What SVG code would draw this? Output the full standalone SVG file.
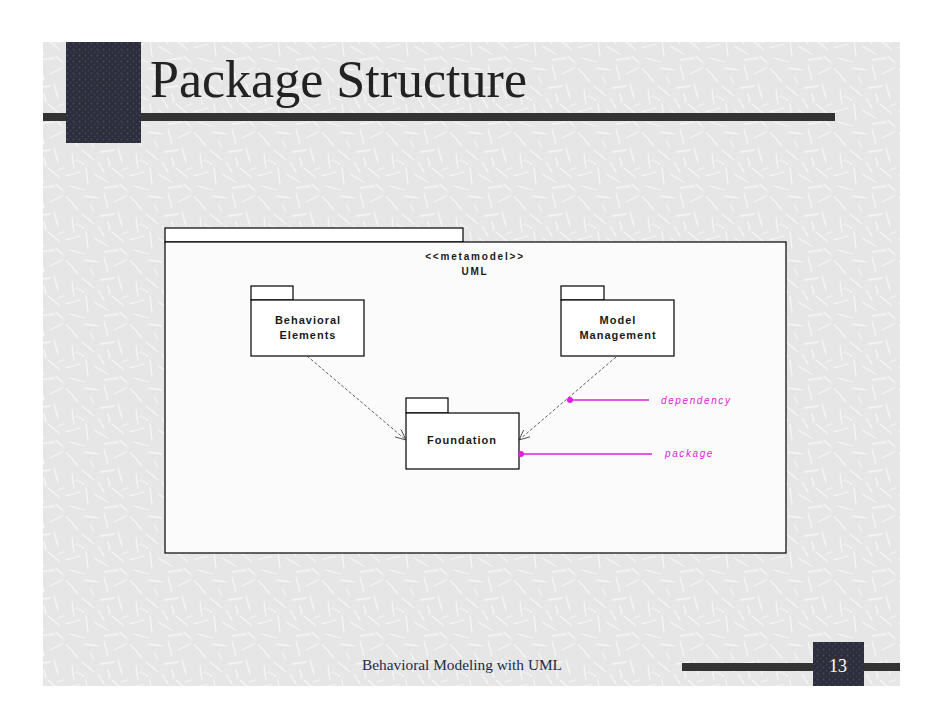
<svg xmlns="http://www.w3.org/2000/svg" width="942" height="728" viewBox="0 0 942 728">
<defs>
<pattern id="scratch" width="64" height="64" patternUnits="userSpaceOnUse">
<rect width="64" height="64" fill="#e6e6e6"/>
<g stroke="#f6f6f6" stroke-width="1.3" stroke-linecap="round">
<line x1="3" y1="5" x2="14" y2="18"/>
<line x1="20" y1="4" x2="34" y2="6"/>
<line x1="40" y1="2" x2="44" y2="16"/>
<line x1="50" y1="10" x2="62" y2="4"/>
<line x1="8" y1="26" x2="10" y2="40"/>
<line x1="18" y1="22" x2="30" y2="32"/>
<line x1="36" y1="24" x2="50" y2="22"/>
<line x1="54" y1="20" x2="58" y2="34"/>
<line x1="2" y1="48" x2="16" y2="44"/>
<line x1="22" y1="40" x2="24" y2="56"/>
<line x1="30" y1="46" x2="44" y2="54"/>
<line x1="48" y1="40" x2="60" y2="50"/>
<line x1="6" y1="58" x2="20" y2="62"/>
<line x1="40" y1="60" x2="54" y2="58"/>
<line x1="34" y1="34" x2="40" y2="44"/>
<line x1="26" y1="12" x2="30" y2="20"/>
<line x1="12" y1="32" x2="20" y2="36"/>
<line x1="44" y1="30" x2="46" y2="38"/>
<line x1="56" y1="56" x2="62" y2="62"/>
<line x1="58" y1="42" x2="63" y2="40"/>
</g>
</pattern>
<pattern id="dots" width="6" height="6" patternUnits="userSpaceOnUse">
<rect width="6" height="6" fill="#2c2e3c"/>
<circle cx="1.5" cy="1.5" r="0.9" fill="#474a5e"/>
<circle cx="4.5" cy="4.5" r="0.9" fill="#3d4052"/>
</pattern>
<marker id="open" viewBox="0 0 12 10" refX="11" refY="5" markerWidth="12" markerHeight="10" markerUnits="userSpaceOnUse" orient="auto">
<path d="M0,0 L11,5 L0,10" fill="none" stroke="#333" stroke-width="0.8"/>
</marker>
<style>
.pkg{fill:#ffffff;stroke:#000;stroke-width:1.2}
.lbl{font-family:"Liberation Sans",Arial,sans-serif;font-weight:bold;font-size:11px;letter-spacing:1px;fill:#1a1a1a;text-anchor:middle}
.stereo{font-size:10px;letter-spacing:1.8px}
.note{font-family:"Liberation Sans",Arial,sans-serif;font-style:italic;font-size:10px;letter-spacing:1.6px;fill:#e020e0}
.dep{stroke:#333;stroke-width:0.8;stroke-dasharray:3,2;fill:none}
.mag{stroke:#e020e0;stroke-width:1.3;fill:none}
</style>
</defs>
<rect width="942" height="728" fill="#ffffff"/>
<rect x="43" y="42" width="857" height="644" fill="url(#scratch)"/>
<g id="header">
<rect x="43" y="113" width="792" height="8" fill="#333333"/>
<rect x="66" y="42" width="75" height="101" fill="url(#dots)"/>
<text x="150" y="97" font-family="Liberation Serif,'Times New Roman',serif" font-size="52" fill="#222222" textLength="377" lengthAdjust="spacingAndGlyphs">Package Structure</text>
</g>
<g id="footer">
<rect x="682" y="663" width="218" height="8" fill="#333333"/>
<rect x="813" y="642" width="51" height="44" fill="url(#dots)"/>
<text x="838" y="672" font-family="Liberation Serif,'Times New Roman',serif" font-size="18" fill="#ffffff" text-anchor="middle">13</text>
<text x="362" y="670" font-family="Liberation Serif,'Times New Roman',serif" font-size="15.5" fill="#1c2a48" textLength="200" lengthAdjust="spacingAndGlyphs">Behavioral Modeling with UML</text>
</g>
<g id="uml">
<rect x="165" y="228" width="298" height="14" class="pkg"/>
<rect x="165" y="242" width="621" height="311" class="pkg" style="fill:#fbfbfb"/>
<text x="475" y="260" class="lbl stereo">&lt;&lt;metamodel&gt;&gt;</text>
<text x="475" y="275" class="lbl stereo">UML</text>
</g>
<g id="behavioral-elements">
<rect x="251" y="286" width="42" height="14" class="pkg"/>
<rect x="251" y="300" width="113" height="56" class="pkg"/>
<text x="308" y="324" class="lbl">Behavioral</text>
<text x="308" y="339" class="lbl">Elements</text>
</g>
<g id="model-management">
<rect x="561" y="286" width="43" height="14" class="pkg"/>
<rect x="561" y="300" width="113" height="56" class="pkg"/>
<text x="618" y="324" class="lbl">Model</text>
<text x="618" y="339" class="lbl">Management</text>
</g>
<g id="foundation">
<rect x="406" y="398" width="42" height="15" class="pkg"/>
<rect x="406" y="413" width="113" height="56" class="pkg"/>
<text x="462" y="444" class="lbl">Foundation</text>
</g>
<g id="connectors">
<line x1="307" y1="356" x2="406" y2="440" class="dep" marker-end="url(#open)"/>
<line x1="616" y1="357" x2="519" y2="440" class="dep" marker-end="url(#open)"/>
<line x1="570" y1="400" x2="649" y2="400" class="mag"/>
<circle cx="570" cy="400" r="3" fill="#e020e0"/>
<line x1="521" y1="454" x2="652" y2="454" class="mag"/>
<circle cx="521" cy="454" r="3" fill="#e020e0"/>
</g>
<g id="labels">
<text x="661" y="404" class="note">dependency</text>
<text x="665" y="457" class="note">package</text>
</g>
</svg>
